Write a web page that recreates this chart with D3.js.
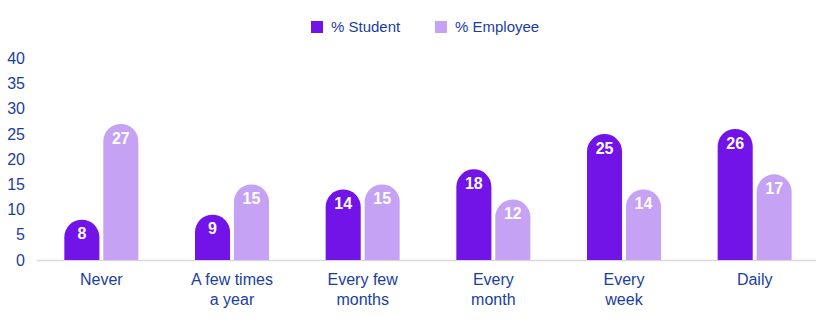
<!DOCTYPE html>
<html><head><meta charset="utf-8">
<script src="https://cdn.jsdelivr.net/npm/d3@7"></script>
<style>body{margin:0;background:#fff}svg{display:block}</style>
</head><body><svg id="c" width="829" height="326"></svg>
<script>
const categories = [["Never"],["A few times","a year"],["Every few","months"],["Every","month"],["Every","week"],["Daily"]];
const seriesNames = ["% Student","% Employee"];
const student = [8,9,14,18,25,26];
const employee = [27,15,15,12,14,17];
const yTicks = [0,5,10,15,20,25,30,35,40];
const colors = ["#7213E8","#C6A2F4"];
const textColor = "#1B3E9E";
const font = "'Liberation Sans', Arial, sans-serif";

const svg = d3.select("#c");
const x0 = d3.scaleBand().domain(d3.range(categories.length)).range([36,820]);
const x1 = d3.scaleBand().domain([0,1]).range([-37,37]).paddingInner(0.1);
const y = d3.scaleLinear().domain([0,40]).range([260,58.4]);

// y axis labels
svg.append("g").selectAll("text").data(yTicks).join("text")
  .attr("x",25).attr("y",d=>y(d)).attr("dy","0.35em").attr("text-anchor","end")
  .attr("font-family",font).attr("font-size",16).attr("fill",textColor).text(d=>d);

// baseline
svg.append("line").attr("x1",37).attr("x2",816).attr("y1",y(0)+0.5).attr("y2",y(0)+0.5)
  .attr("stroke","#d9d9d9").attr("stroke-width",1.5);

function barPath(x,w,top,bottom){
  const r=Math.min(w/2,(bottom-top));
  return `M${x},${bottom}V${top+r}A${r},${r} 0 0 1 ${x+r},${top}H${x+w-r}A${r},${r} 0 0 1 ${x+w},${top+r}V${bottom}Z`;
}
const data = categories.map((c,i)=>[student[i],employee[i]]);
const groups = svg.append("g").selectAll("g").data(data).join("g")
  .attr("transform",(d,i)=>`translate(${x0(i)+x0.bandwidth()/2},0)`);
groups.selectAll("path").data(d=>d).join("path")
  .attr("d",(v,j)=>barPath(x1(j),x1.bandwidth(),y(v),y(0)))
  .attr("fill",(v,j)=>colors[j]);
groups.selectAll("text.v").data(d=>d).join("text").attr("class","v")
  .attr("x",(v,j)=>x1(j)+x1.bandwidth()/2).attr("y",v=>y(v)+14).attr("dy","0.35em")
  .attr("text-anchor","middle").attr("font-family",font).attr("font-weight","bold")
  .attr("font-size",16).attr("fill","#fff").text(v=>v);

// category labels
const cl = svg.append("g").selectAll("text").data(categories).join("text")
  .attr("x",(d,i)=>x0(i)+x0.bandwidth()/2).attr("y",285).attr("text-anchor","middle")
  .attr("font-family",font).attr("font-size",16).attr("fill",textColor);
cl.selectAll("tspan").data(d=>d).join("tspan")
  .attr("x",function(){return this.parentNode.getAttribute("x");})
  .attr("dy",(d,k)=>k===0?0:20).text(d=>d);

// legend
const legX=[311,435];
const lg = svg.append("g").selectAll("g").data(seriesNames).join("g")
  .attr("transform",(d,i)=>`translate(${legX[i]},21)`);
lg.append("rect").attr("width",12).attr("height",12).attr("fill",(d,i)=>colors[i]);
lg.append("text").attr("x",20).attr("y",6).attr("dy","0.35em").attr("font-family",font)
  .attr("font-size",15).attr("fill",textColor).text(d=>d);
</script></body></html>
